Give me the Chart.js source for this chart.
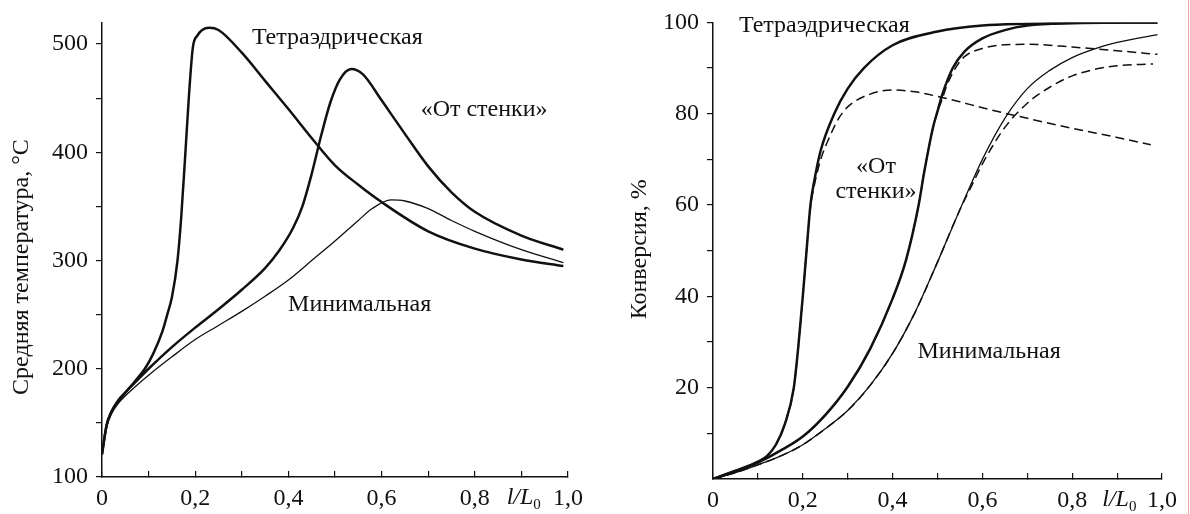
<!DOCTYPE html>
<html>
<head>
<meta charset="utf-8">
<script src="https://cdn.jsdelivr.net/npm/chart.js@4.4.0/dist/chart.umd.min.js"></script>
<style>
    body { margin: 0; background: #fff; width: 1190px; height: 514px; overflow: hidden; position: relative; }
    .panel { position: absolute; top: 0; height: 514px; }
    #leftPanel { left: 0; width: 600px; }
    #rightPanel { left: 600px; width: 590px; }
    .edge { position: absolute; left: 1188px; top: 0; width: 1px; height: 514px; background: #f3a3a3; }
</style>
</head>
<body>
<div class="panel" id="leftPanel"><canvas id="tempChart"></canvas></div>
<div class="panel" id="rightPanel"><canvas id="convChart"></canvas></div>
<div class="edge"></div>

<script>
// ---- axis ticks ----
const xTicks = [0, 0.1, 0.2, 0.3, 0.4, 0.5, 0.6, 0.7, 0.8, 0.9, 1.0];
const xTickLabels = ['0', '', '0,2', '', '0,4', '', '0,6', '', '0,8', '', '1,0'];
const tempTicks = [100, 150, 200, 250, 300, 350, 400, 450, 500];
const tempTickLabels = ['100', '', '200', '', '300', '', '400', '', '500'];
const convTicks = [10, 20, 30, 40, 50, 60, 70, 80, 90, 100];
const convTickLabels = ['', '20', '', '40', '', '60', '', '80', '', '100'];

// ---- left: average temperature, °C ----
const tempTetraX = [0, 0.01, 0.02, 0.035, 0.05, 0.07, 0.092, 0.11, 0.13, 0.14, 0.15, 0.162, 0.17, 0.179, 0.187, 0.195, 0.205, 0.215, 0.23, 0.25, 0.3, 0.35, 0.4, 0.456, 0.5, 0.55, 0.6, 0.7, 0.8, 0.9, 0.99];
const tempTetraY = [121, 148, 160, 171, 178, 188, 200, 214, 235, 250, 266, 300, 340, 400, 455, 497, 508, 513, 515, 513, 492, 466, 440, 410, 388, 370, 354, 327, 311, 301, 295];

const tempWallX = [0, 0.01, 0.02, 0.035, 0.05, 0.07, 0.1, 0.15, 0.2, 0.25, 0.3, 0.35, 0.38, 0.41, 0.43, 0.45, 0.47, 0.49, 0.51, 0.535, 0.56, 0.6, 0.65, 0.7, 0.75, 0.8, 0.9, 0.99];
const tempWallY = [121, 148, 160, 170, 178, 187, 200, 220, 238, 255, 273, 293, 309, 330, 350, 380, 415, 446, 467, 477, 472, 448, 417, 387, 363, 345, 323, 310];

const tempMinX = [0, 0.01, 0.02, 0.035, 0.05, 0.07, 0.1, 0.15, 0.2, 0.25, 0.3, 0.35, 0.4, 0.45, 0.5, 0.55, 0.58, 0.62, 0.65, 0.7, 0.75, 0.8, 0.9, 0.99];
const tempMinY = [121, 146, 158, 168, 175, 183, 194, 211, 227, 240, 253, 267, 282, 300, 318, 337, 348, 356, 355, 348, 337, 327, 310, 298];

// ---- right: conversion, % ----
const convTetraX = [0, 0.05, 0.1, 0.12, 0.14, 0.16, 0.18, 0.19, 0.2, 0.21, 0.217, 0.225, 0.24, 0.27, 0.3, 0.336, 0.4, 0.5, 0.6, 0.7, 0.8, 0.99];
const convTetraY = [0, 1.8, 3.8, 5, 7.5, 12, 20, 29, 40, 52, 60, 65, 72, 80, 85.5, 90, 95, 98, 99.3, 99.7, 99.9, 100];

const convTetraDashX = [0, 0.05, 0.1, 0.12, 0.14, 0.16, 0.18, 0.19, 0.2, 0.21, 0.217, 0.225, 0.24, 0.26, 0.28, 0.3, 0.35, 0.4, 0.45, 0.5, 0.55, 0.6, 0.7, 0.8, 0.9, 0.975];
const convTetraDashY = [0, 1.8, 3.8, 5, 7.5, 12, 20, 29, 40, 52, 59.5, 64, 70, 75, 79, 81.5, 84.3, 85.2, 84.8, 83.8, 82.6, 81.3, 79, 76.8, 74.8, 73.2];

const convWallX = [0, 0.05, 0.1, 0.15, 0.2, 0.25, 0.3, 0.35, 0.4, 0.43, 0.458, 0.47, 0.49, 0.5, 0.51, 0.534, 0.56, 0.6, 0.65, 0.7, 0.8, 0.99];
const convWallY = [0, 1.7, 3.6, 6.2, 9.3, 14, 20.2, 28.5, 39.5, 48, 60, 67, 77, 80.5, 84, 90, 93.6, 96.5, 98.3, 99.3, 99.8, 100];

const convWallDashX = [0, 0.05, 0.1, 0.15, 0.2, 0.25, 0.3, 0.35, 0.4, 0.43, 0.458, 0.47, 0.49, 0.5, 0.51, 0.52, 0.54, 0.56, 0.6, 0.65, 0.7, 0.8, 0.9, 0.99];
const convWallDashY = [0, 1.7, 3.6, 6.2, 9.3, 14, 20.2, 28.5, 39.5, 48, 60, 67, 77, 80.5, 83, 86, 90, 92.5, 94.3, 95.1, 95.2, 94.6, 93.8, 93];

const convMinX = [0, 0.05, 0.1, 0.15, 0.2, 0.25, 0.3, 0.35, 0.4, 0.45, 0.5, 0.55, 0.6, 0.65, 0.7, 0.75, 0.8, 0.85, 0.9, 0.99];
const convMinY = [0, 1.4, 3.1, 5, 7.5, 11, 15, 20.5, 27.5, 36.5, 47.5, 59, 70, 79, 85.5, 89.5, 92.3, 94.2, 95.6, 97.3];

const convMinDashX = [0, 0.05, 0.1, 0.15, 0.2, 0.25, 0.3, 0.35, 0.4, 0.45, 0.5, 0.55, 0.58, 0.6, 0.65, 0.7, 0.75, 0.8, 0.85, 0.9, 0.98];
const convMinDashY = [0, 1.4, 3.1, 5, 7.5, 11, 15, 20.5, 27.5, 36.5, 47.5, 59, 65, 69, 77, 82.3, 85.8, 88.3, 89.7, 90.5, 90.9];

const INK = '#111';
const SERIF = "'Liberation Serif', 'Times New Roman', serif";
const FONT_SIZE = 24;

function points(xs, ys) {
    return xs.map((x, i) => ({ x: x, y: ys[i] }));
}

function curve(xs, ys, width, dashed) {
    return {
        data: points(xs, ys),
        borderColor: INK,
        borderWidth: width,
        borderDash: dashed ? [9, 5] : [],
        pointRadius: 0,
        fill: false,
        cubicInterpolationMode: 'monotone'
    };
}

// curve captions, y axis title and the l/L0 axis name
const annotations = {
    id: 'annotations',
    afterDraw(chart, args, opts) {
        const ctx = chart.ctx;
        const xs = chart.scales.x, ys = chart.scales.y;
        ctx.save();
        ctx.fillStyle = INK;
        ctx.font = FONT_SIZE + 'px ' + SERIF;
        ctx.textAlign = 'center';
        ctx.textBaseline = 'middle';
        (opts.items || []).forEach(item => {
            ctx.fillText(item.text, xs.getPixelForValue(item.x), ys.getPixelForValue(item.y));
        });

        // rotated y axis title
        ctx.save();
        ctx.translate(opts.titleX, ys.getPixelForValue(opts.titleAt));
        ctx.rotate(-Math.PI / 2);
        ctx.fillText(opts.title, 0, 0);
        ctx.restore();

        // x axis name l/L0 between the 0,8 and 1,0 labels
        const px = xs.getPixelForValue(opts.nameAt);
        const py = xs.top + 21;
        ctx.textAlign = 'left';
        ctx.font = 'italic ' + FONT_SIZE + 'px ' + SERIF;
        const main = 'l/L';
        const w = ctx.measureText(main).width;
        ctx.font = '15px ' + SERIF;
        const total = w + ctx.measureText('0').width;
        ctx.font = 'italic ' + FONT_SIZE + 'px ' + SERIF;
        ctx.fillText(main, px - total / 2, py);
        ctx.font = '15px ' + SERIF;
        ctx.fillText('0', px - total / 2 + w, py + 7);
        ctx.restore();
    }
};

function buildChart(canvasId, cfg) {
    return new Chart(document.getElementById(canvasId), {
        type: 'line',
        data: { datasets: cfg.datasets },
        options: {
            responsive: true,
            maintainAspectRatio: false,
            animation: false,
            layout: { padding: cfg.padding },
            plugins: {
                legend: { display: false },
                tooltip: { enabled: false },
                annotations: {
                    items: cfg.labels,
                    nameAt: 0.905,
                    title: cfg.yTitle,
                    titleAt: cfg.yTitleAt,
                    titleX: cfg.yTitleX
                }
            },
            scales: {
                x: {
                    type: 'linear',
                    min: 0,
                    max: 1,
                    afterBuildTicks: s => { s.ticks = xTicks.map(v => ({ value: v })); },
                    afterFit: s => { s.height = cfg.xHeight; },
                    border: { display: true, color: INK, width: 1.5 },
                    grid: { drawOnChartArea: false, drawTicks: true, tickLength: -6, color: INK, lineWidth: 1.2 },
                    ticks: {
                        padding: 13,
                        maxRotation: 0,
                        autoSkip: false,
                        color: INK,
                        font: { family: SERIF, size: FONT_SIZE },
                        callback: (v, i) => xTickLabels[i] || ''
                    }
                },
                y: {
                    min: cfg.yMin,
                    max: cfg.yMax,
                    afterBuildTicks: s => { s.ticks = cfg.yTicks.map(v => ({ value: v })); },
                    afterFit: s => { s.width = cfg.yWidth; },
                    border: { display: true, color: INK, width: 1.5 },
                    grid: { drawOnChartArea: false, drawTicks: true, tickLength: 6, color: INK, lineWidth: 1.2 },
                    ticks: {
                        padding: 8,
                        autoSkip: false,
                        color: INK,
                        font: { family: SERIF, size: FONT_SIZE },
                        callback: (v, i) => cfg.yTickLabels[i] || ''
                    }
                }
            }
        },
        plugins: [annotations]
    });
}

document.addEventListener('DOMContentLoaded', function() {
    buildChart('tempChart', {
        datasets: [
            curve(tempTetraX, tempTetraY, 2.5, false),
            curve(tempWallX, tempWallY, 2.5, false),
            curve(tempMinX, tempMinY, 1.3, false)
        ],
        labels: [
            { text: 'Тетраэдрическая', x: 0.505, y: 506 },
            { text: '«От стенки»', x: 0.82, y: 439 },
            { text: 'Минимальная', x: 0.553, y: 259 }
        ],
        padding: { top: 12, right: 32, left: 0, bottom: 0 },
        xHeight: 37,
        yWidth: 102,
        yMin: 100,
        yMax: 520,
        yTicks: tempTicks,
        yTickLabels: tempTickLabels,
        yTitle: 'Средняя температура, °C',
        yTitleAt: 294,
        yTitleX: 22
    });

    buildChart('convChart', {
        datasets: [
            curve(convTetraX, convTetraY, 2.5, false),
            curve(convTetraDashX, convTetraDashY, 1.5, true),
            curve(convWallX, convWallY, 2.5, false),
            curve(convWallDashX, convWallDashY, 1.5, true),
            curve(convMinX, convMinY, 1.3, false),
            curve(convMinDashX, convMinDashY, 1.5, true)
        ],
        labels: [
            { text: 'Тетраэдрическая', x: 0.248, y: 99.3 },
            { text: '«От', x: 0.363, y: 68.5 },
            { text: 'стенки»', x: 0.363, y: 63 },
            { text: 'Минимальная', x: 0.615, y: 27.8 }
        ],
        padding: { top: 22, right: 18, left: 0, bottom: 0 },
        xHeight: 35,
        yWidth: 113,
        yMin: 0,
        yMax: 100,
        yTicks: convTicks,
        yTickLabels: convTickLabels,
        yTitle: 'Конверсия, %',
        yTitleAt: 50.3,
        yTitleX: 40
    });
});
</script>
</body>
</html>
